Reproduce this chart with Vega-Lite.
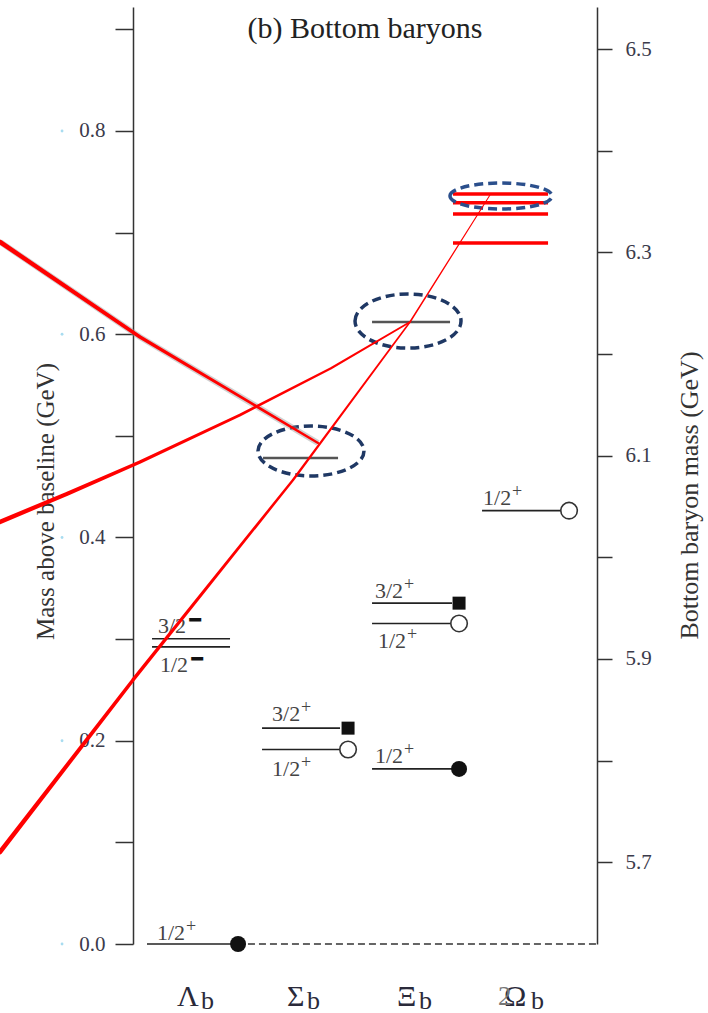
{
  "$schema": "https://vega.github.io/schema/vega-lite/v6.json",
  "width": 464,
  "height": 937,
  "autosize": {"type": "none"},
  "padding": {"left": 133, "top": 7, "right": 111, "bottom": 69},
  "background": "white",
  "config": {"view": {"stroke": null}, "axis": {"grid": false}, "font": "Liberation Serif"},
  "datasets": {
    "levels": [
      {"baryon": "Λb", "state": "Λb", "x": 0.127, "x2": 0.9, "m": 0.0, "kind": "known"},
      {"baryon": "Λb", "state": "Λb(5912)", "x": 0.173, "x2": 0.882, "m": 0.2924, "kind": "known"},
      {"baryon": "Λb", "state": "Λb(5920)", "x": 0.173, "x2": 0.882, "m": 0.3004, "kind": "known"},
      {"baryon": "Σb", "state": "Σb", "x": 1.173, "x2": 1.882, "m": 0.1914, "kind": "known"},
      {"baryon": "Σb", "state": "Σb*", "x": 1.173, "x2": 1.882, "m": 0.2124, "kind": "known"},
      {"baryon": "Ξb", "state": "Ξb", "x": 2.173, "x2": 2.9, "m": 0.1723, "kind": "known"},
      {"baryon": "Ξb", "state": "Ξb'", "x": 2.173, "x2": 2.9, "m": 0.3154, "kind": "known"},
      {"baryon": "Ξb", "state": "Ξb*", "x": 2.173, "x2": 2.9, "m": 0.3354, "kind": "known"},
      {"baryon": "Ωb", "state": "Ωb", "x": 3.173, "x2": 3.9, "m": 0.4264, "kind": "known"},
      {"baryon": "Σb", "state": "Σb(6097)", "x": 1.182, "x2": 1.864, "m": 0.4783, "kind": "new"},
      {"baryon": "Ξb", "state": "Ξb(6227)", "x": 2.173, "x2": 2.882, "m": 0.612, "kind": "new"},
      {"baryon": "Ωb", "state": "Ωb(6316)", "x": 2.909, "x2": 3.773, "m": 0.6898, "kind": "excited"},
      {"baryon": "Ωb", "state": "Ωb(6330)", "x": 2.909, "x2": 3.773, "m": 0.7183, "kind": "excited"},
      {"baryon": "Ωb", "state": "Ωb(6340)", "x": 2.909, "x2": 3.773, "m": 0.7294, "kind": "excited"},
      {"baryon": "Ωb", "state": "Ωb(6350)", "x": 2.909, "x2": 3.773, "m": 0.738, "kind": "excited"}
    ],
    "symbols": [
      {"state": "Λb", "x": 0.955, "m": 0.0, "s": "solid"},
      {"state": "Σb*", "x": 1.955, "m": 0.2124, "s": "square"},
      {"state": "Σb", "x": 1.955, "m": 0.1914, "s": "open"},
      {"state": "Ξb*", "x": 2.964, "m": 0.3354, "s": "square"},
      {"state": "Ξb'", "x": 2.964, "m": 0.3154, "s": "open"},
      {"state": "Ξb", "x": 2.964, "m": 0.1723, "s": "solid"},
      {"state": "Ωb", "x": 3.964, "m": 0.4264, "s": "open"}
    ],
    "spins": [
      {"x": 0.218, "m": 0.004, "t": "1/2", "p": "+"},
      {"x": 0.227, "m": 0.306, "t": "3/2", "p": "−"},
      {"x": 0.245, "m": 0.2677, "t": "1/2", "p": "−"},
      {"x": 1.264, "m": 0.2194, "t": "3/2", "p": "+"},
      {"x": 1.264, "m": 0.1653, "t": "1/2", "p": "+"},
      {"x": 2.2, "m": 0.3405, "t": "3/2", "p": "+"},
      {"x": 2.227, "m": 0.2913, "t": "1/2", "p": "+"},
      {"x": 2.2, "m": 0.1781, "t": "1/2", "p": "+"},
      {"x": 3.182, "m": 0.432, "t": "1/2", "p": "+"}
    ],
    "names": [
      {"sym": "Λ", "x": 0.4, "bx": 0.618},
      {"sym": "Σ", "x": 1.4, "bx": 1.582},
      {"sym": "Ξ", "x": 2.4, "bx": 2.6},
      {"sym": "Ω", "x": 3.373, "bx": 3.618}
    ],
    "links": [
      {"line": "A", "x": -1.209, "m": 0.6908},
      {"line": "A", "x": 0.0636, "m": 0.5973},
      {"line": "A", "x": 1.682, "m": 0.493},
      {"line": "B", "x": -1.209, "m": 0.4153},
      {"line": "B", "x": -0.6, "m": 0.443},
      {"line": "B", "x": 0.0636, "m": 0.4743},
      {"line": "B", "x": 0.9727, "m": 0.5205},
      {"line": "B", "x": 1.8, "m": 0.5665},
      {"line": "B", "x": 2.518, "m": 0.612},
      {"line": "C", "x": -1.209, "m": 0.0905},
      {"line": "C", "x": 0.0, "m": 0.2598},
      {"line": "C", "x": 1.4545, "m": 0.4566},
      {"line": "C", "x": 2.518, "m": 0.612},
      {"line": "C", "x": 3.245, "m": 0.737}
    ],
    "ellipses": [
      {"e": "Σb(6097)", "x": 1.618, "m": 0.4851},
      {"e": "Ξb(6227)", "x": 2.5, "m": 0.613},
      {"e": "Ωb(6350)", "x": 3.345, "m": 0.736}
    ],
    "baseline": [{"from": 1.045, "to": 4.218, "m": 0.0}],
    "dots": [{"m": 0.0}, {"m": 0.2}, {"m": 0.4}, {"m": 0.6}, {"m": 0.8}]
  },
  "layer": [
    {
      "layer": [
        {
          "data": {"name": "levels"},
          "transform": [{"filter": "datum.kind == 'known'"}],
          "mark": {"type": "rule", "color": "#222", "strokeWidth": 1.6},
          "encoding": {
            "x": {"field": "x", "type": "quantitative", "scale": {"domain": [0, 4.218], "nice": false, "zero": false}, "axis": null},
            "x2": {"field": "x2"},
            "y": {
              "field": "m", "type": "quantitative",
              "scale": {"domain": [0, 0.922], "nice": false, "zero": false},
              "axis": {
                "title": "Mass above baseline (GeV)",
                "values": [0, 0.1, 0.2, 0.3, 0.4, 0.5, 0.6, 0.7, 0.8, 0.9],
                "labelExpr": "round(datum.value*10) % 2 == 0 ? format(datum.value, '.1f') : ''",
                "labelOverlap": false,
                "domainColor": "#333", "domainWidth": 1.5,
                "tickColor": "#333", "tickWidth": 1.5, "tickSize": 18,
                "labelPadding": 10, "labelFont": "Liberation Serif", "labelFontSize": 21, "labelColor": "#3b3b4b",
                "titleFont": "Liberation Serif", "titleFontSize": 25, "titleFontWeight": "normal", "titleColor": "#333",
                "titleX": -88, "titleY": 494, "titleAngle": 270, "titleBaseline": "middle", "titleAlign": "center"
              }
            }
          }
        },
        {
          "data": {"name": "levels"},
          "transform": [{"filter": "datum.kind == 'new'"}],
          "mark": {"type": "rule", "color": "#555", "strokeWidth": 2.5},
          "encoding": {
            "x": {"field": "x", "type": "quantitative"},
            "x2": {"field": "x2"},
            "y": {"field": "m", "type": "quantitative"}
          }
        },
        {
          "data": {"name": "levels"},
          "transform": [{"filter": "datum.kind == 'excited'"}],
          "mark": {"type": "rule", "color": "#ff0000", "strokeWidth": 3.5},
          "encoding": {
            "x": {"field": "x", "type": "quantitative"},
            "x2": {"field": "x2"},
            "y": {"field": "m", "type": "quantitative"}
          }
        },
        {
          "data": {"name": "baseline"},
          "mark": {"type": "rule", "color": "#333", "strokeWidth": 1.5, "strokeDash": [7, 4]},
          "encoding": {
            "x": {"field": "from", "type": "quantitative"},
            "x2": {"field": "to"},
            "y": {"field": "m", "type": "quantitative"}
          }
        },
        {
          "data": {"name": "symbols"},
          "transform": [{"filter": "datum.s == 'solid'"}],
          "mark": {"type": "point", "shape": "circle", "filled": true, "color": "#111", "size": 256, "opacity": 1},
          "encoding": {
            "x": {"field": "x", "type": "quantitative"},
            "y": {"field": "m", "type": "quantitative"}
          }
        },
        {
          "data": {"name": "symbols"},
          "transform": [{"filter": "datum.s == 'open'"}],
          "mark": {"type": "point", "shape": "circle", "filled": true, "fill": "white", "stroke": "#333", "strokeWidth": 1.6, "size": 272, "opacity": 1},
          "encoding": {
            "x": {"field": "x", "type": "quantitative"},
            "y": {"field": "m", "type": "quantitative"}
          }
        },
        {
          "data": {"name": "symbols"},
          "transform": [{"filter": "datum.s == 'square'"}],
          "mark": {"type": "point", "shape": "square", "filled": true, "color": "#111", "size": 169, "opacity": 1},
          "encoding": {
            "x": {"field": "x", "type": "quantitative"},
            "y": {"field": "m", "type": "quantitative"}
          }
        },
        {
          "data": {"name": "spins"},
          "mark": {"type": "text", "font": "Liberation Serif", "fontSize": 22, "color": "#444", "align": "left", "baseline": "alphabetic"},
          "encoding": {
            "x": {"field": "x", "type": "quantitative"},
            "y": {"field": "m", "type": "quantitative"},
            "text": {"field": "t"}
          }
        },
        {
          "data": {"name": "spins"},
          "transform": [{"filter": "datum.p == '+'"}],
          "mark": {"type": "text", "font": "Liberation Serif", "fontSize": 18, "color": "#444", "align": "left", "baseline": "alphabetic", "dx": 29, "dy": -8},
          "encoding": {
            "x": {"field": "x", "type": "quantitative"},
            "y": {"field": "m", "type": "quantitative"},
            "text": {"field": "p"}
          }
        },
        {
          "data": {"name": "spins"},
          "transform": [{"filter": "datum.p == '−'"}],
          "mark": {"type": "text", "font": "Liberation Serif", "fontSize": 22, "fontWeight": "bold", "color": "#111", "stroke": "#111", "strokeWidth": 1.8, "align": "left", "baseline": "alphabetic", "dx": 31, "dy": -6},
          "encoding": {
            "x": {"field": "x", "type": "quantitative"},
            "y": {"field": "m", "type": "quantitative"},
            "text": {"field": "p"}
          }
        },
        {
          "data": {"name": "names"},
          "mark": {"type": "text", "font": "Liberation Serif", "fontSize": 30, "color": "#2a2a3a", "align": "left", "baseline": "alphabetic"},
          "encoding": {
            "x": {"field": "x", "type": "quantitative"},
            "y": {"datum": -0.061},
            "text": {"field": "sym"}
          }
        },
        {
          "data": {"name": "names"},
          "mark": {"type": "text", "font": "Liberation Serif", "fontSize": 26, "color": "#2a2a3a", "align": "left", "baseline": "alphabetic"},
          "encoding": {
            "x": {"field": "bx", "type": "quantitative"},
            "y": {"datum": -0.064},
            "text": {"value": "b"}
          }
        },
        {
          "data": {"values": [{"x": 3.318}]},
          "mark": {"type": "text", "font": "Liberation Serif", "fontSize": 27, "color": "#777", "align": "left", "baseline": "alphabetic"},
          "encoding": {
            "x": {"field": "x", "type": "quantitative"},
            "y": {"datum": -0.06},
            "text": {"value": "2"}
          }
        },
        {
          "data": {"values": [{"x": 2.109}]},
          "mark": {"type": "text", "font": "Liberation Serif", "fontSize": 30, "color": "#222", "align": "center", "baseline": "alphabetic"},
          "encoding": {
            "x": {"field": "x", "type": "quantitative"},
            "y": {"datum": 0.8915},
            "text": {"value": "(b) Bottom baryons"}
          }
        },
        {
          "data": {"name": "dots"},
          "mark": {"type": "point", "shape": "circle", "filled": true, "color": "#a8dcf0", "size": 8, "opacity": 1},
          "encoding": {
            "x": {"datum": -0.645},
            "y": {"field": "m", "type": "quantitative"}
          }
        },
        {
          "data": {"name": "ellipses"},
          "transform": [{"filter": "datum.e == 'Σb(6097)'"}],
          "mark": {"type": "point", "shape": "M-1,0A1,0.47 0 1,1 1,0A1,0.47 0 1,1 -1,0Z", "size": 11236, "filled": false, "stroke": "#1f3864", "strokeWidth": 3.5, "strokeDash": [9, 5], "opacity": 1},
          "encoding": {
            "x": {"field": "x", "type": "quantitative"},
            "y": {"field": "m", "type": "quantitative"}
          }
        },
        {
          "data": {"name": "ellipses"},
          "transform": [{"filter": "datum.e == 'Ξb(6227)'"}],
          "mark": {"type": "point", "shape": "M-1,0A1,0.51 0 1,1 1,0A1,0.51 0 1,1 -1,0Z", "size": 11236, "filled": false, "stroke": "#1f3864", "strokeWidth": 3.5, "strokeDash": [9, 5], "opacity": 1},
          "encoding": {
            "x": {"field": "x", "type": "quantitative"},
            "y": {"field": "m", "type": "quantitative"}
          }
        },
        {
          "data": {"name": "ellipses"},
          "transform": [{"filter": "datum.e == 'Ωb(6350)'"}],
          "mark": {"type": "point", "shape": "M-1,0A1,0.255 0 1,1 1,0A1,0.255 0 1,1 -1,0Z", "size": 10404, "filled": false, "stroke": "#2b4f8c", "strokeWidth": 3.5, "strokeDash": [9, 5], "opacity": 1},
          "encoding": {
            "x": {"field": "x", "type": "quantitative"},
            "y": {"field": "m", "type": "quantitative"}
          }
        },
        {
          "data": {"name": "links"},
          "transform": [{"filter": "datum.line == 'A'"}],
          "mark": {"type": "line", "color": "#999", "strokeWidth": 6, "opacity": 0.45},
          "encoding": {
            "x": {"field": "x", "type": "quantitative"},
            "y": {"field": "m", "type": "quantitative"}
          }
        },
        {
          "data": {"name": "links"},
          "mark": {"type": "trail", "color": "#ff0000"},
          "encoding": {
            "x": {"field": "x", "type": "quantitative"},
            "y": {"field": "m", "type": "quantitative"},
            "detail": {"field": "line", "type": "nominal"},
            "size": {"field": "x", "type": "quantitative", "scale": {"domain": [-1.21, 3.25], "range": [4.5, 1]}, "legend": null}
          }
        }
      ]
    },
    {
      "data": {"values": [{"v": 6.0}]},
      "mark": {"type": "point", "opacity": 0},
      "encoding": {
        "y": {
          "field": "v", "type": "quantitative",
          "scale": {"domain": [5.6195, 6.5415], "nice": false, "zero": false},
          "axis": {
            "orient": "right",
            "title": "Bottom baryon mass (GeV)",
            "values": [5.7, 5.8, 5.9, 6.0, 6.1, 6.2, 6.3, 6.4, 6.5],
            "labelExpr": "round(datum.value*10) % 2 == 1 ? format(datum.value, '.1f') : ''",
            "labelOverlap": false,
            "domainColor": "#333", "domainWidth": 1.5,
            "tickColor": "#333", "tickWidth": 1.5, "tickSize": 15,
            "labelPadding": 13, "labelFont": "Liberation Serif", "labelFontSize": 21, "labelColor": "#3b3b4b",
            "titleFont": "Liberation Serif", "titleFontSize": 26, "titleFontWeight": "normal", "titleColor": "#333",
            "titleX": 92, "titleY": 488, "titleAngle": 270, "titleBaseline": "middle", "titleAlign": "center"
          }
        }
      }
    }
  ],
  "resolve": {"scale": {"y": "independent"}}
}
